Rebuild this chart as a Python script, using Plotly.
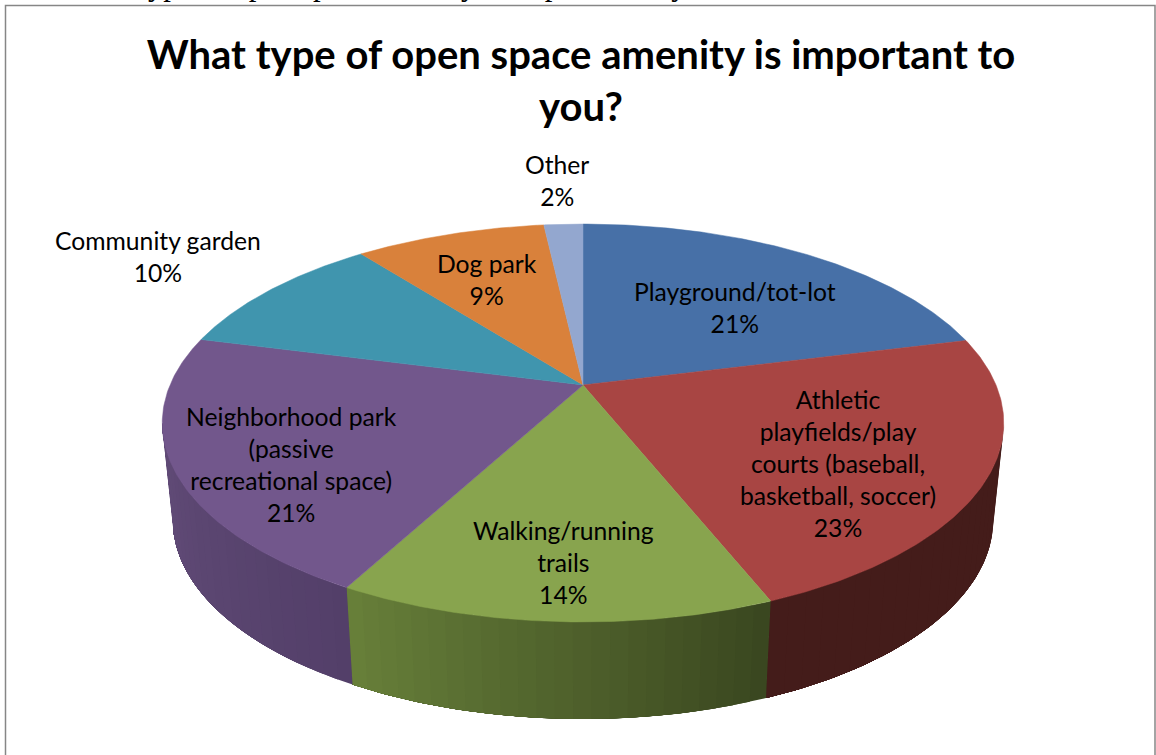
import numpy as np
import plotly.graph_objects as go

categories = ["Playground/tot-lot", "Athletic<br>playfields/play<br>courts (baseball,<br>basketball, soccer)",
              "Walking/running<br>trails", "Neighborhood park<br>(passive<br>recreational space)",
              "Community garden", "Dog park", "Other"]
values = [21.1, 22.8, 14.0, 21.1, 10.4, 8.8, 1.8]
top_colors = ["#4770a7", "#a84543", "#88a44e", "#72578c", "#4095ae", "#d9813b", "#93a7cf"]
side_left = ["#000000", "#441c1a", "#68803a", "#624c78", "#000000", "#000000", "#000000"]
side_right = ["#000000", "#441c1a", "#39461f", "#533f69", "#000000", "#000000", "#000000"]
label_x = [735, 838, 563, 291, 158, 487, 557]
label_y = [307.5, 463, 562, 464.5, 256, 279.5, 180]

CX, CY, A, B, P = 583.0, 385.0, 413.0, 191.7, 0.191
SCALE, CY2 = 0.975, 482.0

def project(theta, bottom=False):
    u, v = np.sin(theta), np.cos(theta)
    d = 1 + P * v
    if bottom:
        return CX + SCALE * A * u / d, CY2 - B * v / d
    return CX + A * u / d, CY - B * v / d

def mix(c1, c2, f):
    a = [int(c1[i:i+2], 16) for i in (1, 3, 5)]
    b = [int(c2[i:i+2], 16) for i in (1, 3, 5)]
    return "rgb(%d,%d,%d)" % tuple(round(a[i] + (b[i] - a[i]) * f) for i in range(3))

fig = go.Figure()
edges = np.concatenate([[0], np.cumsum(values)]) / sum(values) * 2 * np.pi

# side wall: visible between the two silhouette angles
t_min, t_max = np.pi / 2 + np.arcsin(P), 3 * np.pi / 2 - np.arcsin(P)
for i in range(len(values)):
    lo, hi = max(edges[i], t_min), min(edges[i + 1], t_max)
    if hi <= lo:
        continue
    bands = 24
    bedges = np.linspace(lo, hi, bands + 1)
    for k in range(bands):
        # each band runs on to the end of its slice so that no seam shows between bands
        f = 1 - (k + 0.5) / bands
        col = mix(side_left[i], side_right[i], f)
        t = np.linspace(bedges[k], hi, 60)
        x1, y1 = project(t)
        x2, y2 = project(t[::-1], bottom=True)
        fig.add_trace(go.Scatter(x=np.r_[x1, x2, x1[0]], y=np.r_[y1, y2, y1[0]], mode="lines",
                                 fill="toself", fillcolor=col, line=dict(color=col, width=0),
                                 hoverinfo="skip", showlegend=False))

# top face
for i in range(len(values)):
    t = np.linspace(edges[i], edges[i + 1], 120)
    x, y = project(t)
    fig.add_trace(go.Scatter(x=np.r_[CX, x, CX], y=np.r_[CY, y, CY], mode="lines", fill="toself",
                             fillcolor=top_colors[i], line=dict(color=top_colors[i], width=0.5),
                             name=categories[i].replace("<br>", " "), showlegend=False))

for i, c in enumerate(categories):
    fig.add_annotation(x=label_x[i], y=label_y[i], text=f"{c}<br>{round(values[i])}%", showarrow=False,
                       font=dict(family="Lato", size=24.7, color="#000000"), align="center",
                       xanchor="center", yanchor="middle")

fig.add_annotation(xref="x", yref="paper", x=63, y=1 + 14.5 / 755,
                   text="What type of open space amenity is important to you?", showarrow=False,
                   font=dict(family="Liberation Serif", size=30.8, color="#000000"), xanchor="left", yanchor="middle")

fig.add_shape(type="rect", x0=5.5, y0=5.5, x1=1155, y1=780, line=dict(color="#868686", width=1.5), fillcolor="rgba(0,0,0,0)")

fig.update_xaxes(range=[0, 1156], visible=False, fixedrange=True)
fig.update_yaxes(range=[755, 0], visible=False, fixedrange=True)
fig.update_layout(width=1156, height=755, margin=dict(l=0, r=0, t=0, b=0), paper_bgcolor="white",
                  plot_bgcolor="white", showlegend=False,
                  title=dict(text="What type of open space amenity is important to<br>you?",
                             font=dict(family="Lato", size=40, color="#000000", weight="bold"),
                             x=581 / 1156, y=1 - 69 / 755, xref="paper", yref="paper",
                             xanchor="center", yanchor="middle"))
fig.write_html("out.html", config={"displayModeBar": False},
               post_script="document.body.style.margin='0';document.body.style.overflow='hidden';")
